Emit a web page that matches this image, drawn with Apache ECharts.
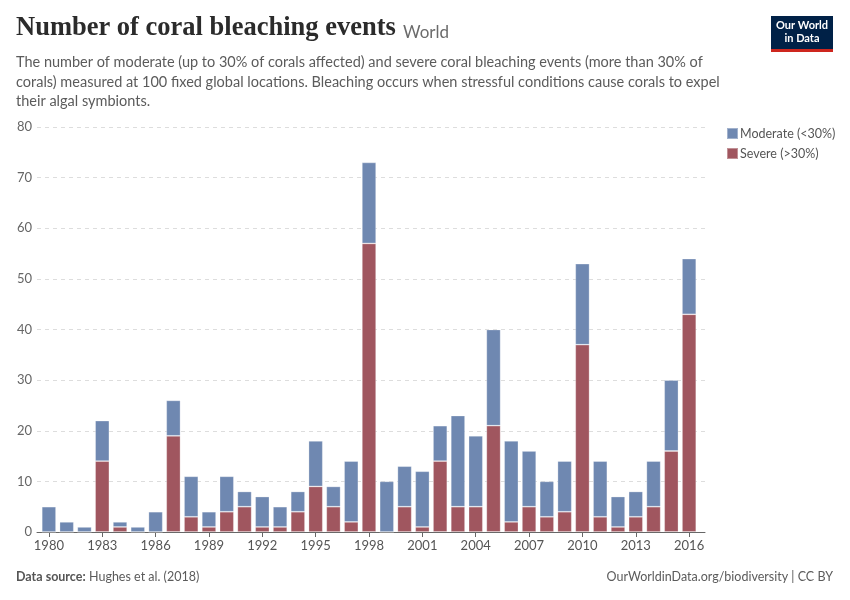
<!DOCTYPE html>
<html>
<head>
<meta charset="utf-8">
<script src="https://cdn.jsdelivr.net/npm/echarts@6/dist/echarts.min.js"></script>
<style>
html,body{margin:0;padding:0;background:#fff;}
#chart{width:850px;height:600px;}
</style>
</head>
<body>
<div id="chart"></div>
<script>
const years = [1980,1981,1982,1983,1984,1985,1986,1987,1988,1989,1990,1991,1992,1993,1994,1995,1996,1997,1998,1999,2000,2001,2002,2003,2004,2005,2006,2007,2008,2009,2010,2011,2012,2013,2014,2015,2016];
const severe   = [0,0,0,14,1,0,0,19,3,1,4,5,1,1,4,9,5,2,57,0,5,1,14,5,5,21,2,5,3,4,37,3,1,3,5,16,43];
const moderate = [5,2,1,8,1,1,4,7,8,3,7,3,6,4,4,9,4,12,16,10,8,11,7,18,14,19,16,11,7,10,16,11,6,5,9,14,11];
const yTicks = [0,10,20,30,40,50,60,70,80];

const chart = echarts.init(document.getElementById('chart'), null, {renderer:'canvas'});
const lato = 'Lato, "Open Sans", sans-serif';
const yMin = yTicks[0], yMax = yTicks[yTicks.length-1];
const option = {
  animation:false,
  backgroundColor:'#fff',
  grid:[
    {left:37,right:145,top:127,bottom:68,containLabel:false},
    {left:40,right:152,top:127,bottom:68,containLabel:false}
  ],
  legend:{
    orient:'vertical', left:721, top:122,
    itemWidth:11, itemHeight:11, itemGap:7,
    icon:'rect',
    data:['Moderate (<30%)','Severe (>30%)'],
    textStyle:{color:'#555',fontSize:12.5,fontFamily:lato,padding:[0,0,0,-3]}
  },
  xAxis:[
    {type:'value',gridIndex:0,min:0,max:1,
     axisLine:{show:true,onZero:false,lineStyle:{color:'#666',width:1}},
     axisTick:{show:false},axisLabel:{show:false},splitLine:{show:false}},
    {type:'category',gridIndex:1,data:years.map(String),
     axisLine:{show:false},
     axisTick:{show:true,alignWithLabel:true,interval:2,length:5,lineStyle:{color:'#666'}},
     axisLabel:{interval:2,color:'#555',fontSize:13,fontFamily:lato,margin:7}}
  ],
  yAxis:[
    {type:'value',gridIndex:0,min:yMin,max:yMax,interval:10,
     axisLine:{show:false},axisTick:{show:false},
     axisLabel:{color:'#666',fontSize:13,fontFamily:lato,margin:5},
     splitLine:{lineStyle:{color:'#dddddd',type:[4,4],width:1}}},
    {type:'value',gridIndex:1,min:yMin,max:yMax,interval:10,
     axisLine:{show:false},axisTick:{show:false},axisLabel:{show:false},splitLine:{show:false}}
  ],
  series:[
    {name:'Severe (>30%)',type:'bar',stack:'t',data:severe,xAxisIndex:1,yAxisIndex:1,barCategoryGap:'20%',
     itemStyle:{color:'#a0565f',borderColor:'rgba(255,255,255,0.35)',borderWidth:0.8}},
    {name:'Moderate (<30%)',type:'bar',stack:'t',data:moderate,xAxisIndex:1,yAxisIndex:1,barCategoryGap:'20%',
     itemStyle:{color:'#6f88b1',borderColor:'rgba(255,255,255,0.35)',borderWidth:0.8}}
  ],
  graphic:[
    {type:'text',left:16,top:15,style:{text:'Number of coral bleaching events',fontFamily:'"Liberation Serif", "DejaVu Serif", serif',fontWeight:'bold',fontSize:26.5,fill:'#2b2b2b'}},
    {type:'text',left:403,top:24,style:{text:'World',fontFamily:lato,fontSize:17,fill:'#6b6b6b'}},
    {type:'text',left:16,top:53,style:{text:'The number of moderate (up to 30% of corals affected) and severe coral bleaching events (more than 30% of\ncorals) measured at 100 fixed global locations. Bleaching occurs when stressful conditions cause corals to expel\ntheir algal symbionts.',fontFamily:lato,fontSize:14.5,lineHeight:19.5,fill:'#5b5b5b'}},
    {type:'rect',left:771,top:16,shape:{width:62,height:33},style:{fill:'#002147'}},
    {type:'rect',left:771,top:49,shape:{width:62,height:3},style:{fill:'#ce261e'}},
    {type:'text',x:802,y:19,style:{text:'Our World\nin Data',align:'center',verticalAlign:'top',fontFamily:lato,fontWeight:'bold',fontSize:11,lineHeight:13,fill:'#fff'}},
    {type:'text',left:16,top:570,style:{rich:{b:{fontFamily:lato,fontSize:12.5,fontWeight:'bold',fill:'#555'},n:{fontFamily:lato,fontSize:12.5,fill:'#5b5b5b'}},text:'{b|Data source:} {n|Hughes et al. (2018)}'}},
    {type:'text',right:17,top:570,style:{text:'OurWorldinData.org/biodiversity | CC BY',fontFamily:lato,fontSize:12.5,fill:'#5b5b5b'}}
  ]
};
chart.setOption(option);
</script>
</body>
</html>
